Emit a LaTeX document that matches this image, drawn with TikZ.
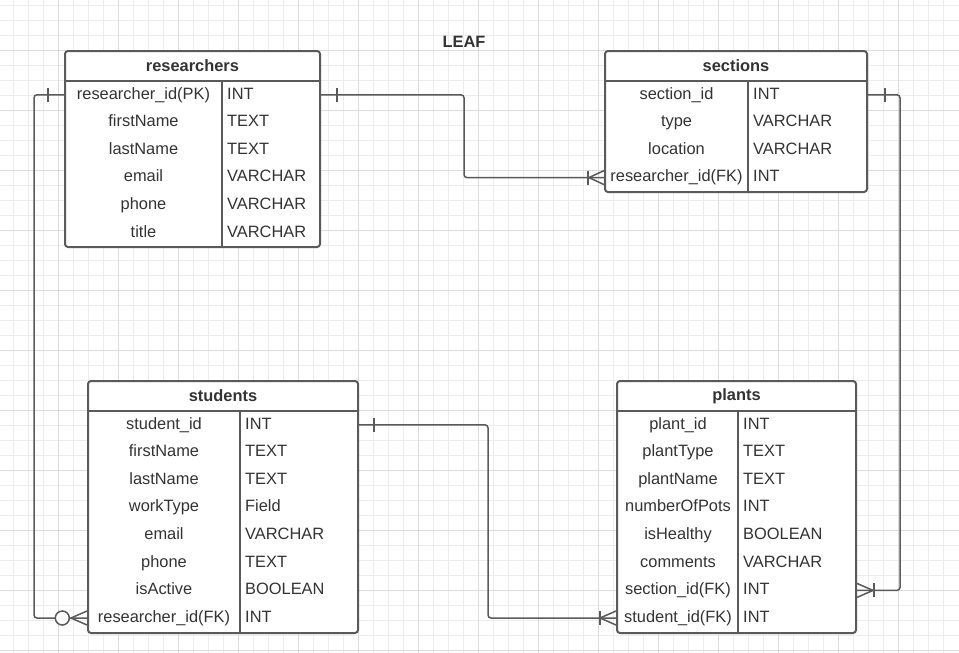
\documentclass[tikz,border=0pt]{standalone}
\usepackage{fontspec}
\setmainfont{Liberation Sans}
\usepackage{tikz}

\definecolor{gridminor}{HTML}{EDEDED}
\definecolor{gridmajor}{HTML}{DCDCDC}
\definecolor{edgegray}{HTML}{5A5A5A}
\definecolor{textgray}{HTML}{333333}

\newcommand{\erdfont}{\fontsize{16.4}{19.7}\selectfont}

\tikzset{
  minorgrid/.style={draw=gridminor, line width=0.8pt},
  majorgrid/.style={draw=gridmajor, line width=0.8pt},
  tablebox/.style={draw=edgegray, line width=2pt, rounded corners=3pt, fill=white, inner sep=0pt},
  tableline/.style={draw=edgegray, line width=2pt},
  tabletitle/.style={text=textgray, font=\erdfont\bfseries, inner sep=0pt},
  fieldname/.style={text=textgray, inner sep=0pt, text height=12pt, text depth=3.5pt},
  fieldtype/.style={fieldname, anchor=west},
  relation/.style={draw=edgegray, line width=1.5pt, rounded corners=3pt},
  markline/.style={draw=edgegray, line width=1.5pt},
}

\begin{document}
\begin{tikzpicture}[x=1pt, y=-1pt, font=\erdfont]
    \useasboundingbox (0,0) rectangle (959,653);
    % background grid
    \fill[white] (0,0) rectangle (959,653);
    \foreach \x in {13.3,28.3,...,958} \draw[minorgrid] (\x,0) -- (\x,653);
    \foreach \y in {5,20,...,653} \draw[minorgrid] (0,\y) -- (959,\y);
    \foreach \x in {58.3,118.3,...,958} \draw[majorgrid] (\x,0) -- (\x,653);
    \foreach \y in {50,110,...,653} \draw[majorgrid] (0,\y) -- (959,\y);

    % title
    \node[tabletitle] (leaf) at (464,42) {LEAF};

    % researchers
    \node[tablebox, minimum width=255pt, minimum height=196pt] (researchers) at (192.5,149) {};
    \draw[tableline] (65,81) -- (320,81);
    \draw[tableline] (222,81) -- (222,247);
    \node[tabletitle] (researchers-title) at (192.5,66) {researchers};
    \foreach \field/\kind [count=\i] in {researcher\_id(PK)/INT, firstName/TEXT,
        lastName/TEXT, email/VARCHAR, phone/VARCHAR, title/VARCHAR} {
      \node[fieldname] (res-\i) at (143.5,67.2+27.6*\i) {\field};
      \node[fieldtype] (res-\i-type) at (227,67.2+27.6*\i) {\kind};
    }

    % sections
    \node[tablebox, minimum width=262pt, minimum height=141pt] (sections) at (736,121.5) {};
    \draw[tableline] (605,81) -- (867,81);
    \draw[tableline] (748,81) -- (748,192);
    \node[tabletitle] (sections-title) at (736,66) {sections};
    \foreach \field/\kind [count=\i] in {section\_id/INT, type/VARCHAR,
        location/VARCHAR, researcher\_id(FK)/INT} {
      \node[fieldname] (sec-\i) at (676.5,67.2+27.6*\i) {\field};
      \node[fieldtype] (sec-\i-type) at (753,67.2+27.6*\i) {\kind};
    }

    % students
    \node[tablebox, minimum width=270pt, minimum height=252pt] (students) at (223,507) {};
    \draw[tableline] (88,411) -- (358,411);
    \draw[tableline] (240,411) -- (240,633);
    \node[tabletitle] (students-title) at (223,396) {students};
    \foreach \field/\kind [count=\i] in {student\_id/INT, firstName/TEXT,
        lastName/TEXT, workType/Field, email/VARCHAR, phone/TEXT,
        isActive/BOOLEAN, researcher\_id(FK)/INT} {
      \node[fieldname] (stu-\i) at (164,397.2+27.6*\i) {\field};
      \node[fieldtype] (stu-\i-type) at (245,397.2+27.6*\i) {\kind};
    }

    % plants
    \node[tablebox, minimum width=239pt, minimum height=252pt] (plants) at (736.5,507) {};
    \draw[tableline] (617,411) -- (856,411);
    \draw[tableline] (738,411) -- (738,633);
    \node[tabletitle] (plants-title) at (736.5,396) {plants};
    \foreach \field/\kind [count=\i] in {plant\_id/INT, plantType/TEXT,
        plantName/TEXT, numberOfPots/INT, isHealthy/BOOLEAN, comments/VARCHAR,
        section\_id(FK)/INT, student\_id(FK)/INT} {
      \node[fieldname] (pla-\i) at (678,397.2+27.6*\i) {\field};
      \node[fieldtype] (pla-\i-type) at (743,397.2+27.6*\i) {\kind};
    }

    % researchers -> sections, one to many
    \draw[relation] (res-1 -| researchers.east) -- ++(143,0) |- (sec-4 -| sections.west);
    \draw[markline] ([xshift=16pt]res-1 -| researchers.east) ++(0,-7) -- ++(0,14);
    \draw[markline] ([xshift=-16pt]sec-4 -| sections.west) ++(0,-7) -- ++(0,14);
    \draw[markline] ([xshift=-15pt]sec-4 -| sections.west) -- ++(15,-7)
      ([xshift=-15pt]sec-4 -| sections.west) -- ++(15,7);

    % researchers -> students, zero to many
    \draw[relation] (res-1 -| researchers.west) -- ++(-30,0) |- (stu-8 -| students.west);
    \draw[markline] ([xshift=-16pt]res-1 -| researchers.west) ++(0,-7) -- ++(0,14);
    \draw[markline, fill=white] ([xshift=-24.7pt]stu-8 -| students.west) circle[radius=7pt];
    \draw[markline] ([xshift=-16pt]stu-8 -| students.west) -- ++(16,-7)
      ([xshift=-16pt]stu-8 -| students.west) -- ++(16,7);

    % sections -> plants, one to many
    \draw[relation] (sec-1 -| sections.east) -- ++(32,0) |- (pla-7 -| plants.east);
    \draw[markline] ([xshift=17pt]sec-1 -| sections.east) ++(0,-7) -- ++(0,14);
    \draw[markline] ([xshift=17pt]pla-7 -| plants.east) ++(0,-7) -- ++(0,14);
    \draw[markline] ([xshift=16pt]pla-7 -| plants.east) -- ++(-16,-7)
      ([xshift=16pt]pla-7 -| plants.east) -- ++(-16,7);

    % students -> plants, one to many
    \draw[relation] (stu-1 -| students.east) -- ++(129,0) |- (pla-8 -| plants.west);
    \draw[markline] ([xshift=15pt]stu-1 -| students.east) ++(0,-7) -- ++(0,14);
    \draw[markline] ([xshift=-16pt]pla-8 -| plants.west) ++(0,-7) -- ++(0,14);
    \draw[markline] ([xshift=-16pt]pla-8 -| plants.west) -- ++(16,-7)
      ([xshift=-16pt]pla-8 -| plants.west) -- ++(16,7);
  \end{tikzpicture}
\end{document}
